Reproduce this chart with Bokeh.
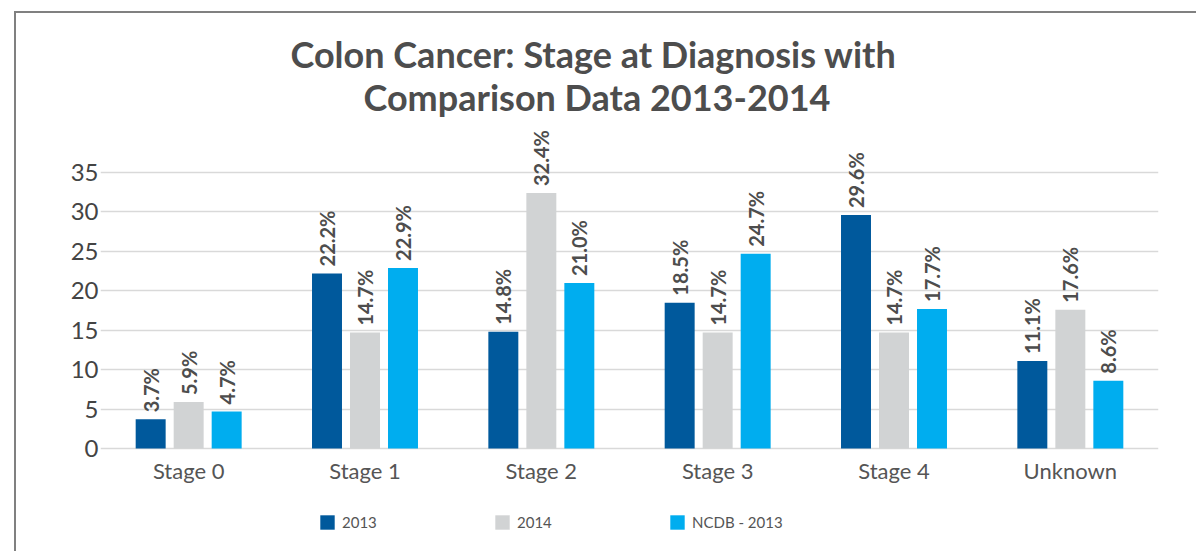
from bokeh.plotting import figure
from bokeh.models import (FactorRange, Range1d, Title, Legend, LegendItem,
                          ColumnDataSource, FixedTicker)
from bokeh.transform import dodge
from bokeh.core.properties import value
from bokeh.embed import file_html
from bokeh.resources import INLINE
import math

# ---- data ----
categories = ["Stage 0", "Stage 1", "Stage 2", "Stage 3", "Stage 4", "Unknown"]
series_names = ["2013", "2014", "NCDB - 2013"]
v2013 = [3.7, 22.2, 14.8, 18.5, 29.6, 11.1]
v2014 = [5.9, 14.7, 32.4, 14.7, 14.7, 17.6]
vncdb = [4.7, 22.9, 21.0, 24.7, 17.7, 8.6]
y_ticks = [0, 5, 10, 15, 20, 25, 30, 35]
colors = ["#00599c", "#d1d3d4", "#00adef"]

FONT = "Lato"
TXT = "#4d4d4d"

src = ColumnDataSource(dict(
    cat=categories,
    s2013=v2013, s2014=v2014, sncdb=vncdb,
    l2013=[f"{v:.1f}%" for v in v2013],
    l2014=[f"{v:.1f}%" for v in v2014],
    lncdb=[f"{v:.1f}%" for v in vncdb],
))

# the plot area extends below zero so that the category labels and the
# legend sit inside it (x axis drawn at y=0)
p = figure(
    width=1182, height=540,
    x_range=FactorRange(*categories, range_padding=0),
    y_range=Range1d(-13.31, 41.85),
    output_backend="svg", toolbar_location=None,
    min_border_left=84, min_border_right=40,
    min_border_top=105, min_border_bottom=0,
)
p.outline_line_color = None
# grey frame line around the chart (left/top visible, as in the reference)
p.styles = {"margin-left": "14px", "margin-top": "11px",
            "border-left": "2px solid #808080", "border-top": "2px solid #808080"}

cols = [("s2013", "l2013"), ("s2014", "l2014"), ("sncdb", "lncdb")]
offsets = [-0.2155, 0.0, 0.2155]
renderers = []
for (vc, lc), off, col in zip(cols, offsets, colors):
    r = p.vbar(x=dodge("cat", off, range=p.x_range), top=vc, width=0.170,
               source=src, fill_color=col, line_color=None)
    renderers.append(r)
    p.text(x=dodge("cat", off, range=p.x_range), y=vc, text=lc, source=src,
           angle=math.pi / 2, text_align="left", text_baseline="middle",
           y_offset=-7, text_font=value(FONT), text_font_style="bold",
           text_font_size="20px", text_color=TXT)

# axes
p.yaxis.ticker = FixedTicker(ticks=y_ticks)
p.yaxis.axis_line_color = None
p.yaxis.major_tick_line_color = None
p.yaxis.minor_tick_line_color = None
p.yaxis.major_label_text_font = FONT
p.yaxis.major_label_text_font_size = "24px"
p.yaxis.major_label_text_color = "#444444"
p.yaxis.major_label_standoff = -4

p.xaxis.fixed_location = 0
p.xaxis.axis_line_color = None
p.xaxis.major_tick_line_color = None
p.xaxis.major_label_text_font = FONT
p.xaxis.major_label_text_font_size = "22px"
p.xaxis.major_label_text_color = "#555555"
p.xaxis.major_label_standoff = 2

p.xgrid.grid_line_color = None
p.ygrid.grid_line_color = "#d9d9d9"
p.ygrid.grid_line_width = 1.5

# titles
p.add_layout(Title(text="Comparison Data 2013-2014", align="left",
                   text_font=FONT, text_font_size="36px", text_font_style="bold",
                   text_color=TXT, offset=263, standoff=-1), "above")
p.add_layout(Title(text="Colon Cancer: Stage at Diagnosis with", align="left",
                   text_font=FONT, text_font_size="36px", text_font_style="bold",
                   text_color=TXT, offset=190, standoff=-5), "above")

# legend
items = [LegendItem(label=n, renderers=[r]) for n, r in zip(series_names, renderers)]
legend = Legend(items=items, orientation="horizontal", location=(218, 22),
                glyph_width=18, glyph_height=18, label_standoff=6,
                label_width=151, spacing=0, padding=0, margin=0,
                border_line_color=None, background_fill_alpha=0,
                label_text_font=FONT, label_text_font_size="15px",
                label_text_color="#555555")
p.add_layout(legend)

open("out.html", "w").write(file_html(p, INLINE))
